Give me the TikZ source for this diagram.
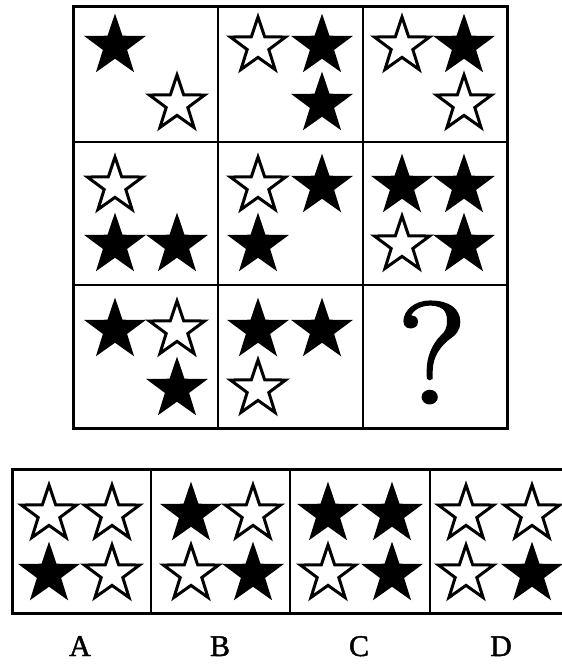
\documentclass[tikz,border=0pt]{standalone}
\usepackage{fontspec}
\newfontfamily\timesfont[FakeBold=1.5]{Liberation Serif}
\newfontfamily\qfont[FakeBold=2]{Latin Modern Roman}
\usetikzlibrary{shapes.geometric}
\tikzset{
  starbase/.style={star, star points=5, star point ratio=2.55, minimum size=58pt, inner sep=0pt, draw=black, line join=miter},
  bstar/.style={starbase, fill=black, line width=2.2pt},
  wstar/.style={starbase, fill=white, line width=3pt},
  frame/.style={draw=black, line width=3pt},
  divider/.style={draw=black, line width=2.3pt},
  lbl/.style={font=\timesfont\fontsize{30}{30}\selectfont, inner sep=0pt}
}
\begin{document}
\begin{tikzpicture}[x=1pt,y=-1pt]
\useasboundingbox (0,0) rectangle (562,664);
% top grid
\draw[divider] (218,6) -- (218,428) (363,6) -- (363,428) (73,142) -- (507,142) (73,285) -- (507,285);
\draw[frame] (73,6) rectangle (507,428);
% R1C1
\node[bstar] (a1) at (115,46) {};
\node[wstar] (a2) at (177,104) {};
% R1C2
\node[wstar] (b1) at (258,46) {};
\node[bstar] (b2) at (322,46) {};
\node[bstar] (b3) at (322,104) {};
% R1C3
\node[wstar] (c1) at (402,46) {};
\node[bstar] (c2) at (464,46) {};
\node[wstar] (c3) at (464,104) {};
% R2C1
\node[wstar] (d1) at (115,186) {};
\node[bstar] (d2) at (115,245) {};
\node[bstar] (d3) at (177,245) {};
% R2C2
\node[wstar] (e1) at (258,186) {};
\node[bstar] (e2) at (322,186) {};
\node[bstar] (e3) at (258,245) {};
% R2C3
\node[bstar] (f1) at (402,186) {};
\node[bstar] (f2) at (464,186) {};
\node[wstar] (f3) at (402,245) {};
\node[bstar] (f4) at (464,245) {};
% R3C1
\node[bstar] (g1) at (115,330) {};
\node[wstar] (g2) at (177,330) {};
\node[bstar] (g3) at (177,389) {};
% R3C2
\node[bstar] (h1) at (258,330) {};
\node[bstar] (h2) at (322,330) {};
\node[wstar] (h3) at (258,389) {};
% R3C3
\node[font=\qfont\fontsize{144}{144}\selectfont, inner sep=0pt, anchor=base, xscale=1.1] (q) at (432,403) {?};
% bottom options
\draw[divider] (151,469) -- (151,613) (290,469) -- (290,613) (430,469) -- (430,613);
\draw[frame] (600,469) -- (12,469) -- (12,613) -- (600,613);
% A
\node[wstar] (oa1) at (49,514) {};
\node[wstar] (oa2) at (112,514) {};
\node[bstar] (oa3) at (49,574) {};
\node[wstar] (oa4) at (112,574) {};
% B
\node[bstar] (ob1) at (191,514) {};
\node[wstar] (ob2) at (253,514) {};
\node[wstar] (ob3) at (191,574) {};
\node[bstar] (ob4) at (253,574) {};
% C
\node[bstar] (oc1) at (328,514) {};
\node[bstar] (oc2) at (392,514) {};
\node[wstar] (oc3) at (328,574) {};
\node[bstar] (oc4) at (392,574) {};
% D
\node[wstar] (od1) at (466,514) {};
\node[wstar] (od2) at (532,514) {};
\node[wstar] (od3) at (466,574) {};
\node[bstar] (od4) at (532,574) {};
% labels
\node[lbl, anchor=base] (la) at (80,656) {A};
\node[lbl, anchor=base] (lb) at (220,656) {B};
\node[lbl, anchor=base] (lc) at (359,656) {C};
\node[lbl, anchor=base] (ld) at (501,656) {D};
\end{tikzpicture}
\end{document}
